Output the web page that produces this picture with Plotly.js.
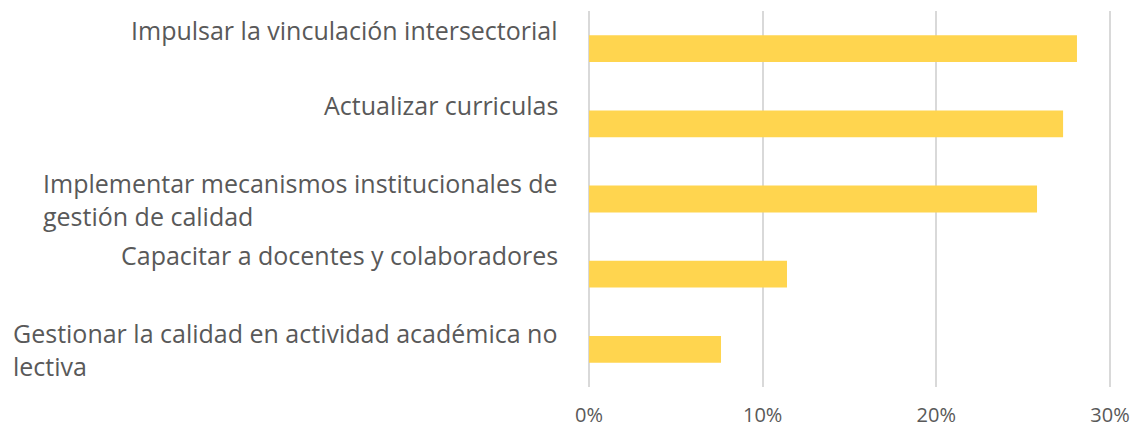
<!DOCTYPE html>
<html>
<head>
<meta charset="utf-8">
<script src="https://cdn.plot.ly/plotly-3.0.1.min.js"></script>
<style>html,body{margin:0;padding:0;background:#fff;}#chart{width:1134px;height:427px;}</style>
</head>
<body>
<div id="chart"></div>
<script>
const categories = [
  "Impulsar la vinculación intersectorial",
  "Actualizar curriculas",
  "Implementar mecanismos institucionales de<br>gestión de calidad",
  "Capacitar a docentes y colaboradores",
  "Gestionar la calidad en actividad académica no<br>lectiva"
];
const values = [0.281, 0.273, 0.258, 0.114, 0.076];
const tickVals = [0, 0.1, 0.2, 0.3];
const tickText = ["0%", "10%", "20%", "30%"];

const FONT = "Open Sans, Noto Sans, sans-serif";
const TXT = "#595959";

const trace = {
  type: "bar",
  orientation: "h",
  x: values,
  y: categories,
  marker: {color: "#FFD54F", line: {width: 0}},
  hoverinfo: "none"
};

const annotations = categories.map(c => ({
  xref: "paper", yref: "y",
  x: 0, xshift: -28, xanchor: "right",
  y: c, yanchor: c.includes("<br>") ? "middle" : "bottom",
  text: c, align: "left", showarrow: false,
  font: {family: FONT, size: 25, color: TXT}
}));

const layout = {
  width: 1134, height: 427,
  margin: {l: 588, r: 23, t: 11, b: 40, pad: 0},
  paper_bgcolor: "#fff", plot_bgcolor: "#fff",
  showlegend: false,
  bargap: 0.644,
  xaxis: {
    range: [-0.0006, 0.3006],
    tickvals: tickVals, ticktext: tickText,
    showgrid: true, gridcolor: "#D9D9D9", gridwidth: 2,
    zeroline: false, showline: false, ticks: "",
    ticklabelstandoff: 14,
    tickfont: {family: FONT, size: 20, color: TXT},
    fixedrange: true
  },
  yaxis: {
    type: "category",
    categoryorder: "array", categoryarray: categories,
    autorange: "reversed",
    showticklabels: false, showgrid: false, zeroline: false, showline: false, ticks: "",
    fixedrange: true
  },
  annotations: annotations
};

Plotly.newPlot("chart", [trace], layout, {displayModeBar: false, staticPlot: true});
</script>
</body>
</html>
